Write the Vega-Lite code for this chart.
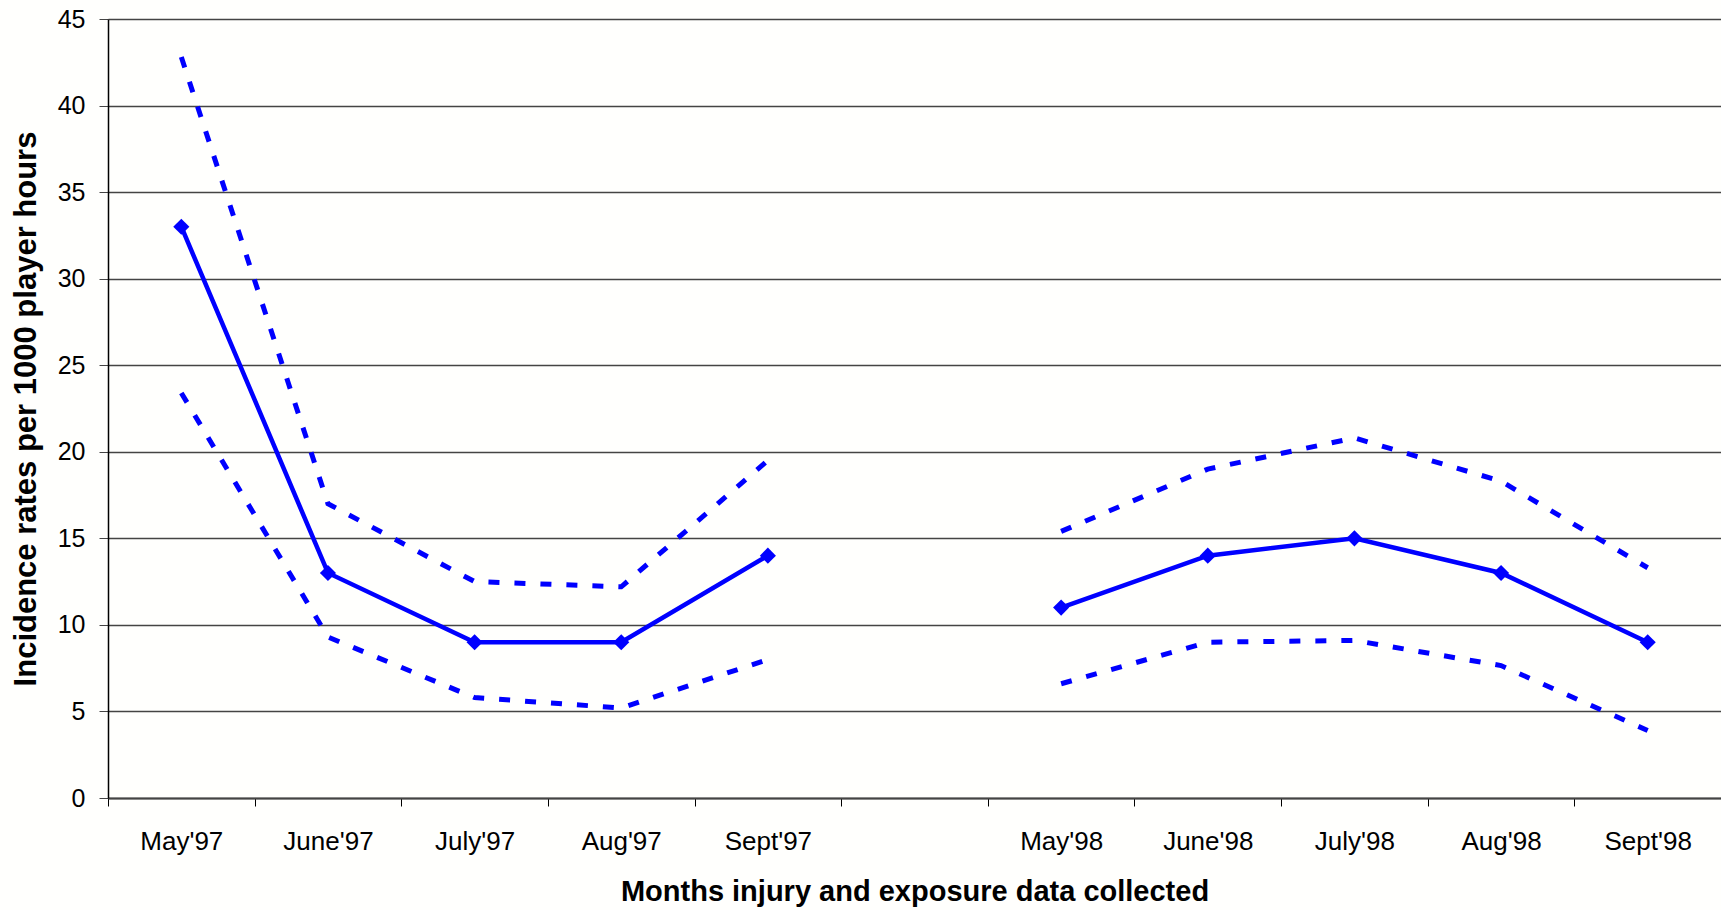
{
  "$schema": "https://vega.github.io/schema/vega-lite/v6.json",
  "width": 1613,
  "height": 779,
  "autosize": {"type": "none"},
  "padding": {"left": 108, "top": 19, "right": 0, "bottom": 112},
  "background": "#fffffd",
  "data": {
    "values": [
      {"month": "May'97", "year": "1997", "rate": 33, "upper": 42.8, "lower": 23.4},
      {"month": "June'97", "year": "1997", "rate": 13, "upper": 17.0, "lower": 9.3},
      {"month": "July'97", "year": "1997", "rate": 9, "upper": 12.5, "lower": 5.8},
      {"month": "Aug'97", "year": "1997", "rate": 9, "upper": 12.2, "lower": 5.2},
      {"month": "Sept'97", "year": "1997", "rate": 14, "upper": 19.5, "lower": 8.0},
      {"month": "May'98", "year": "1998", "rate": 11, "upper": 15.4, "lower": 6.6},
      {"month": "June'98", "year": "1998", "rate": 14, "upper": 19.0, "lower": 9.0},
      {"month": "July'98", "year": "1998", "rate": 15, "upper": 20.8, "lower": 9.1},
      {"month": "Aug'98", "year": "1998", "rate": 13, "upper": 18.3, "lower": 7.65},
      {"month": "Sept'98", "year": "1998", "rate": 9, "upper": 13.3, "lower": 3.9}
    ]
  },
  "encoding": {
    "x": {
      "field": "month",
      "type": "ordinal",
      "sort": null,
      "bandPosition": 0.5,
      "scale": {
        "type": "band",
        "domain": ["May'97", "June'97", "July'97", "Aug'97", "Sept'97", "gap", "May'98", "June'98", "July'98", "Aug'98", "Sept'98"],
        "paddingInner": 0,
        "paddingOuter": 0
      },
      "axis": {
        "title": "Months injury and exposure data collected",
        "titleFont": "Liberation Sans",
        "titleFontSize": 29,
        "titleFontWeight": "bold",
        "titleColor": "#000000",
        "titlePadding": 23,
        "labelFont": "Liberation Sans",
        "labelFontSize": 26,
        "labelColor": "#000000",
        "labelAngle": 0,
        "labelPadding": 22,
        "labelExpr": "datum.value == 'gap' ? '' : datum.value",
        "tickBand": "extent",
        "tickSize": 8,
        "tickColor": "#000000",
        "domainColor": "#444444",
        "domainWidth": 2,
        "grid": false
      }
    }
  },
  "layer": [
    {
      "mark": {"type": "line", "color": "#0000ff", "strokeWidth": 5, "strokeDash": [11, 15]},
      "encoding": {
        "y": {
          "field": "upper",
          "type": "quantitative",
          "scale": {"domain": [0, 45], "nice": false},
          "axis": {
            "title": "Incidence rates per 1000 player hours",
            "titleFont": "Liberation Sans",
            "titleFontSize": 31,
            "titleFontWeight": "bold",
            "titleColor": "#000000",
            "titlePadding": 15,
            "labelFont": "Liberation Sans",
            "labelFontSize": 25,
            "labelColor": "#000000",
            "labelPadding": 14,
            "values": [0, 5, 10, 15, 20, 25, 30, 35, 40, 45],
            "tickSize": 9,
            "tickColor": "#444444",
            "domainColor": "#000000",
            "domainWidth": 1.5,
            "grid": true,
            "gridColor": "#444444",
            "gridWidth": 1.3,
            "gridOpacity": 1
          }
        },
        "detail": {"field": "year"}
      }
    },
    {
      "mark": {"type": "line", "color": "#0000ff", "strokeWidth": 5, "strokeDash": [11, 15]},
      "encoding": {
        "y": {"field": "lower", "type": "quantitative"},
        "detail": {"field": "year"}
      }
    },
    {
      "mark": {"type": "line", "color": "#0000ff", "strokeWidth": 4.5, "point": {"shape": "diamond", "size": 260, "filled": true, "color": "#0000ff", "opacity": 1}},
      "encoding": {
        "y": {"field": "rate", "type": "quantitative"},
        "detail": {"field": "year"}
      }
    }
  ],
  "config": {
    "view": {"stroke": null}
  }
}
